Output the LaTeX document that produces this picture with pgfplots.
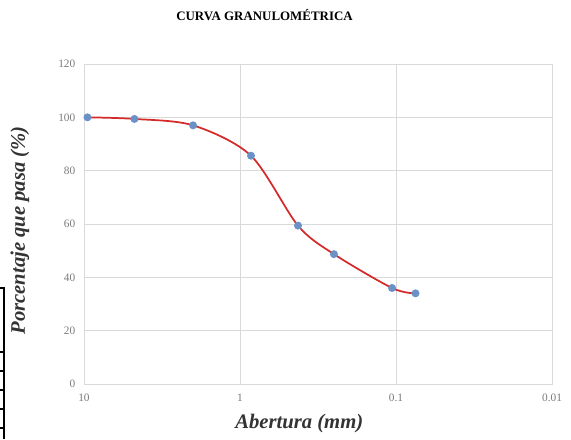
\documentclass[border=0pt]{standalone}
\usepackage{fontspec}
\setmainfont{Liberation Serif}
\usepackage{pgfplots}
\pgfplotsset{compat=1.18}

\definecolor{curva}{HTML}{D42A2A}
\definecolor{punto}{HTML}{6A92C6}
\definecolor{rejilla}{HTML}{D9D9D9}
\definecolor{rejillamenor}{HTML}{E6E6E6}
\definecolor{textogris}{HTML}{7A7A7A}

\begin{document}
\begin{tikzpicture}
\path[use as bounding box] (0,0) rectangle (428.25pt,329.25pt);

% trozo de tabla que asoma por la izquierda
\draw[line width=0.8pt] (0,113.25pt) -- (3pt,113.25pt) -- (3pt,0);
\foreach \yy in {65.25,51,36.75,22.5,8.25}
  \draw[line width=0.8pt] (0,\yy pt) -- (3pt,\yy pt);

\node[font=\bfseries\fontsize{9.7}{11}\selectfont] at (198.4pt,318pt) {CURVA GRANULOMÉTRICA};

\begin{axis}[
    at={(63pt,41.25pt)}, anchor=south west,
    scale only axis,
    width=351pt, height=240pt,
    xmode=log, x dir=reverse,
    xmin=0.01, xmax=10,
    ymin=0, ymax=120,
    xtick={10,1,0.1,0.01},
    xticklabels={10,1,0.1,0.01},
    ytick={0,20,40,60,80,100,120},
    xmajorgrids=true, xminorgrids=true, ymajorgrids=true,
    major grid style={draw=rejilla, line width=0.6pt},
    minor grid style={draw=rejillamenor, line width=0.5pt},
    axis line style={draw=rejilla, line width=0.7pt},
    major tick length=0pt, minor tick length=0pt,
    tick label style={font=\fontsize{8.5}{9}\selectfont, text=textogris},
    /pgf/number format/assume math mode=true,
    xticklabel style={yshift=-4pt},
    yticklabel style={xshift=-3pt},
    xlabel={Abertura (mm)},
    ylabel={Porcentaje que pasa (\%)},
    label style={font=\bfseries\itshape\fontsize{15.5}{17}\selectfont, text=black!80},
    xlabel style={at={(axis description cs:0.46,-0.125)}, anchor=center},
    ylabel style={at={(axis description cs:-0.137,0.48)}, anchor=center},
]
\addplot[curva, line width=1.3pt, smooth, tension=0.5,
    mark=*, mark size=2.3pt, mark options={draw=punto, fill=punto}]
    coordinates {
        (9.5,100.0)
        (4.75,99.4)
        (2.0,97.0)
        (0.85,85.6)
        (0.425,59.4)
        (0.25,48.7)
        (0.106,36.0)
        (0.075,34.0)
    };
\end{axis}
\end{tikzpicture}
\end{document}
